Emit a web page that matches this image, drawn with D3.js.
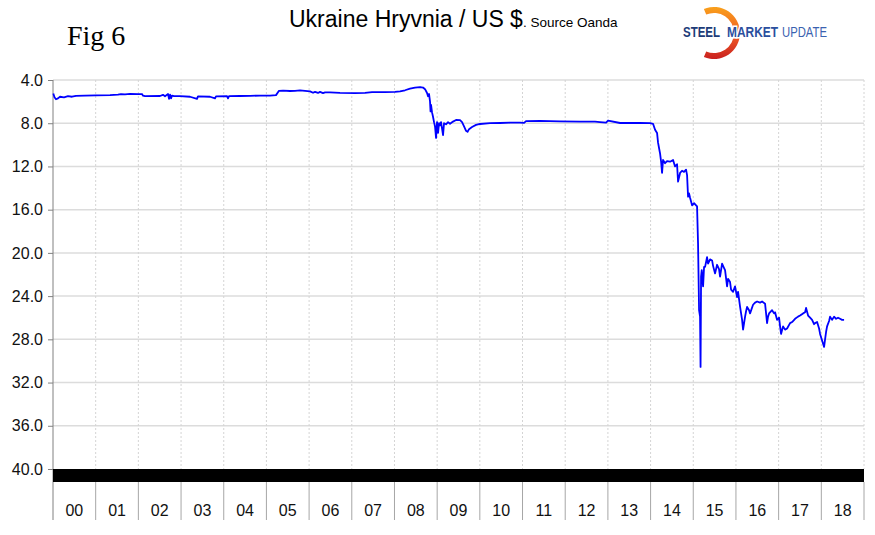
<!DOCTYPE html>
<html><head><meta charset="utf-8">
<script src="https://cdn.jsdelivr.net/npm/d3@7"></script>
<style>html,body{margin:0;padding:0;background:#fff;}svg{display:block;}</style>
</head><body>
<svg id="c" width="875" height="535"></svg>
<script>
// ---- data ----
const yearLabels = ["00","01","02","03","04","05","06","07","08","09","10","11","12","13","14","15","16","17","18"];
const yTicks = [4,8,12,16,20,24,28,32,36,40];
const dates = [
2000.007,2000.035,2000.070,2000.117,2000.164,2000.258,2000.351,2000.445,2000.539,2000.750,
2001.007,2001.336,2001.523,2001.593,2001.687,2001.804,2001.992,2002.085,2002.109,2002.156,
2002.507,2002.577,2002.624,2002.695,2002.718,2002.742,2002.765,2002.788,2002.835,2002.976,
2003.210,2003.374,2003.397,2003.679,2003.796,2003.819,2004.077,2004.100,2004.124,2004.382,
2004.616,2004.850,2005.084,2005.225,2005.295,2005.389,2005.553,2005.670,2005.787,2005.904,
2006.022,2006.092,2006.139,2006.209,2006.256,2006.326,2006.373,2006.490,2006.724,2007.076,
2007.310,2007.474,2007.779,2008.013,2008.130,2008.247,2008.364,2008.482,2008.599,2008.669,
2008.716,2008.763,2008.786,2008.810,2008.833,2008.845,2008.857,2008.880,2008.903,2008.927,
2008.950,2008.974,2008.997,2009.021,2009.044,2009.067,2009.091,2009.138,2009.161,2009.208,
2009.255,2009.302,2009.372,2009.442,2009.536,2009.583,2009.630,2009.677,2009.712,2009.747,
2009.817,2009.911,2010.005,2010.239,2010.473,2010.707,2010.942,2011.036,2011.082,2011.410,
2011.879,2012.348,2012.699,2012.816,2012.957,2013.004,2013.285,2013.753,2013.988,2014.058,
2014.105,2014.152,2014.175,2014.222,2014.245,2014.269,2014.292,2014.339,2014.386,2014.456,
2014.527,2014.573,2014.620,2014.644,2014.691,2014.737,2014.784,2014.831,2014.855,2014.878,
2014.901,2014.925,2014.972,2015.019,2015.066,2015.089,2015.112,2015.136,2015.159,2015.171,
2015.183,2015.199,2015.230,2015.253,2015.277,2015.323,2015.347,2015.394,2015.441,2015.464,
2015.511,2015.558,2015.604,2015.628,2015.675,2015.722,2015.745,2015.792,2015.815,2015.862,
2015.886,2015.933,2015.979,2016.026,2016.050,2016.097,2016.144,2016.167,2016.214,2016.237,
2016.261,2016.308,2016.331,2016.401,2016.448,2016.495,2016.565,2016.612,2016.682,2016.706,
2016.729,2016.752,2016.776,2016.846,2016.893,2016.917,2016.963,2017.010,2017.034,2017.057,
2017.104,2017.151,2017.198,2017.268,2017.315,2017.385,2017.455,2017.502,2017.573,2017.620,
2017.643,2017.690,2017.737,2017.784,2017.830,2017.854,2017.901,2017.948,2017.971,2018.018,
2018.065,2018.088,2018.112,2018.135,2018.182,2018.205,2018.252,2018.299,2018.346,2018.392,
2018.439,2018.486,2018.533];
const rates = [
5.25,5.60,5.78,5.70,5.55,5.60,5.50,5.55,5.46,5.45,
5.43,5.40,5.36,5.30,5.33,5.28,5.31,5.30,5.45,5.50,
5.48,5.37,5.50,5.30,5.75,5.35,5.70,5.45,5.50,5.50,
5.55,5.75,5.52,5.55,5.70,5.52,5.50,5.70,5.50,5.48,
5.46,5.45,5.45,5.40,5.00,4.98,5.02,5.00,4.96,5.00,
5.05,5.18,5.10,5.20,5.10,5.22,5.15,5.15,5.20,5.22,
5.20,5.12,5.12,5.10,5.05,4.95,4.80,4.70,4.65,4.70,
4.85,5.20,5.50,5.30,6.00,6.90,6.30,7.00,7.40,7.90,
8.30,9.37,7.90,8.90,8.00,8.20,7.90,9.10,8.00,8.10,
7.90,8.05,7.85,7.70,7.72,7.90,8.30,8.70,8.80,8.55,
8.35,8.15,8.07,8.00,7.98,7.95,7.95,7.97,7.80,7.78,
7.83,7.85,7.85,7.90,7.95,7.75,7.98,7.98,8.00,8.05,
8.60,8.90,9.80,10.80,11.50,12.60,11.40,11.70,11.50,11.56,
11.40,12.00,11.80,13.40,12.60,12.40,12.50,12.30,12.80,14.80,
14.50,14.90,15.60,15.40,15.60,15.70,19.10,25.30,25.90,30.55,
22.20,21.60,23.10,21.30,21.30,20.40,21.00,20.60,20.70,21.20,
21.90,21.10,21.50,22.20,21.00,21.40,21.60,23.10,22.40,22.70,
23.40,23.60,23.10,24.10,23.60,25.00,26.20,27.10,25.90,25.40,
25.00,25.30,25.60,24.80,24.60,24.50,24.60,24.50,24.70,25.60,
26.50,25.90,25.60,25.30,25.60,25.50,26.20,26.00,26.80,27.50,
26.80,27.10,27.00,26.50,26.40,26.10,25.90,25.80,25.60,25.50,
25.10,25.80,26.00,26.20,26.60,26.50,26.40,27.00,27.50,28.10,
28.70,28.00,27.30,26.80,26.30,25.90,26.20,25.90,26.10,26.00,
26.10,26.20,26.20];

// ---- layout ----
const svg = d3.select("#c");
const L = 53, R = 864, T = 80, B = 469;
const x = d3.scaleLinear().domain([2000, 2019]).range([L, R]);
const y = d3.scaleLinear().domain([4, 40]).range([T, B]);
const xb = d3.scaleBand().domain(yearLabels).range([L, R]).padding(0);
const font = "Liberation Sans, Arial, sans-serif";

// horizontal gridlines
svg.append("g").selectAll("line").data(yTicks.slice(0, -1)).join("line")
  .attr("x1", L).attr("x2", R).attr("y1", d => y(d)).attr("y2", d => y(d))
  .attr("stroke", "#dcdcdc").attr("stroke-width", 1.5);

// vertical dotted gridlines at year boundaries
const bounds = d3.range(2001, 2020);
svg.append("g").selectAll("line").data(bounds).join("line")
  .attr("x1", d => x(d)).attr("x2", d => x(d)).attr("y1", T).attr("y2", B)
  .attr("stroke", "#d4d4d4").attr("stroke-width", 1).attr("stroke-dasharray", "2,2");

// y axis
const yAxis = d3.axisLeft(y).tickValues(yTicks).tickFormat(d3.format(".1f")).tickSize(5).tickPadding(5);
const ga = svg.append("g").attr("transform", `translate(${L},0)`).call(yAxis);
ga.select(".domain").remove();
ga.selectAll(".tick line").attr("stroke", "#808080");
ga.selectAll(".tick text").attr("font-family", font).attr("font-size", 16).attr("fill", "#111");
svg.append("line").attr("x1", L).attr("x2", L).attr("y1", T).attr("y2", 520)
  .attr("stroke", "#808080").attr("stroke-width", 1);

// black band under plot
svg.append("rect").attr("x", L).attr("y", y(40)).attr("width", R - L).attr("height", 13).attr("fill", "#000");

// category separators and labels
svg.append("g").selectAll("line").data(bounds).join("line")
  .attr("x1", d => x(d)).attr("x2", d => x(d)).attr("y1", y(40) + 13).attr("y2", 520)
  .attr("stroke", "#a6a6a6").attr("stroke-width", 1);
svg.append("g").selectAll("text").data(yearLabels).join("text")
  .attr("x", d => xb(d) + xb.bandwidth() / 2).attr("y", 516)
  .attr("text-anchor", "middle").attr("font-family", font).attr("font-size", 16).attr("fill", "#111")
  .text(d => d);

// data line
const pts = dates.map((d, i) => [d, rates[i]]);
svg.append("path").datum(pts)
  .attr("d", d3.line().x(d => x(d[0])).y(d => y(d[1])))
  .attr("fill", "none").attr("stroke", "#0000ff").attr("stroke-width", 1.8).attr("stroke-linejoin", "round");

// titles
svg.append("text").attr("x", 67).attr("y", 45).attr("font-family", "Liberation Serif, Times New Roman, serif")
  .attr("font-size", 28).attr("fill", "#000").text("Fig 6");
const tt = svg.append("text").attr("x", 289).attr("y", 27).attr("font-family", font).attr("fill", "#000");
tt.append("tspan").attr("font-size", 23).text("Ukraine Hryvnia / US $");
tt.append("tspan").attr("font-size", 13.5).text(". Source Oanda");

// logo
const defs = svg.append("defs");
const grad = defs.append("linearGradient").attr("id", "lg").attr("x1", 0).attr("y1", 0).attr("x2", 0).attr("y2", 1);
grad.append("stop").attr("offset", "0%").attr("stop-color", "#f9a01b");
grad.append("stop").attr("offset", "55%").attr("stop-color", "#ef5a24");
grad.append("stop").attr("offset", "100%").attr("stop-color", "#c9201f");
const arc = d3.arc().innerRadius(20).outerRadius(26).startAngle(-0.4).endAngle(Math.PI + 0.4);
svg.append("path").attr("transform", "translate(714,33)").attr("d", arc()).attr("fill", "url(#lg)");
const logoParts = [
  {t: "STEEL", x: 683, w: 37, bold: true, c: "#1d3c78"},
  {t: "MARKET", x: 727, w: 51, bold: true, c: "#2b4f9e"},
  {t: "UPDATE", x: 782, w: 45, bold: false, c: "#3a62b0"}
];
svg.append("g").selectAll("text").data(logoParts).join("text")
  .attr("x", d => d.x).attr("y", 37).attr("font-family", font).attr("font-size", 14)
  .attr("font-weight", d => d.bold ? "bold" : "normal").attr("fill", d => d.c)
  .attr("stroke", "#fff").attr("stroke-width", 3).attr("paint-order", "stroke")
  .attr("textLength", d => d.w).attr("lengthAdjust", "spacingAndGlyphs")
  .text(d => d.t);
</script>
</body></html>
